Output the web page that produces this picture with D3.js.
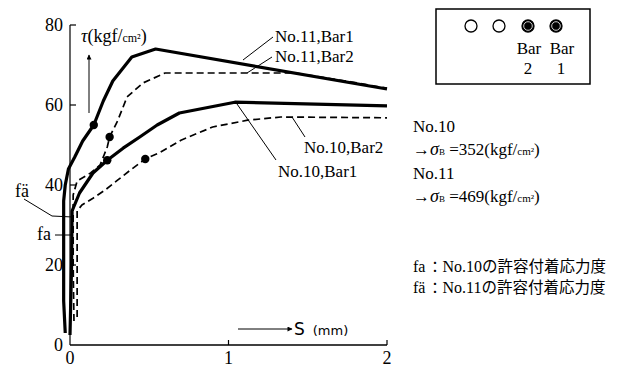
<!DOCTYPE html>
<html>
<head>
<meta charset="utf-8">
<script src="https://cdn.jsdelivr.net/npm/d3@7"></script>
<style>
  body { margin: 0; background: #fff; }
</style>
</head>
<body>
<svg id="chart" width="629" height="369"></svg>
<script>
// slip S (mm) and bond stress tau (kgf/cm2)
const no11Bar1 = [[-0.03, 3], [-0.04, 11], [-0.04, 24], [-0.04, 36], [-0.03, 40], [-0.01, 44], [0.03, 47],
  [0.08, 51], [0.15, 55], [0.21, 61], [0.27, 66], [0.39, 72], [0.54, 74], [2.0, 64]];
const no11Bar2 = [[0.025, 6], [0.02, 20], [0.02, 37.5], [0.045, 41], [0.13, 43], [0.19, 45], [0.215, 47.5],
  [0.235, 49.5], [0.25, 52], [0.3, 56], [0.36, 62], [0.46, 65.5], [0.6, 68], [1.42, 68], [1.77, 65.8], [2.0, 64.2]];
const no10Bar1 = [[0.0, 2.5], [0.01, 20], [0.013, 33.5], [0.06, 38], [0.145, 43], [0.235, 46.2], [0.335, 49.2],
  [0.44, 52], [0.55, 55], [0.69, 58], [1.04, 60.7], [2.0, 59.8]];
const no10Bar2 = [[0.045, 7], [0.045, 20], [0.045, 33.5], [0.075, 35], [0.145, 36.7], [0.22, 38.7], [0.3, 41.2],
  [0.38, 43.7], [0.475, 46.5], [0.57, 48.2], [0.7, 51.2], [0.9, 54.5], [1.12, 56.2], [1.33, 57], [2.0, 56.8]];
const dots = [[0.15, 55], [0.25, 52], [0.235, 46.2], [0.475, 46.5]];

const yTicks = [0, 20, 40, 60, 80];
const xTicks = [0, 1, 2];
const faValue = 27.5;      // No.10
const faPrimeValue = 32;   // No.11

const SERIF = "'Liberation Serif', 'DejaVu Serif', 'Times New Roman', serif";
const JP = "'Noto Sans CJK JP', sans-serif";

const svg = d3.select("#chart").attr("font-family", SERIF);
const x = d3.scaleLinear().domain([0, 2]).range([70, 387]);
const y = d3.scaleLinear().domain([0, 80]).range([345, 25]);

function txt(xp, yp, size) {
  return svg.append("text").attr("x", xp).attr("y", yp)
    .attr("font-family", SERIF).attr("font-size", size).attr("fill", "#000");
}

// axes
svg.append("line").attr("x1", x(0)).attr("x2", x(0)).attr("y1", y(80)).attr("y2", y(0))
  .attr("stroke", "#000").attr("stroke-width", 1.2);
svg.append("line").attr("x1", x(0)).attr("x2", x(2)).attr("y1", y(0)).attr("y2", y(0))
  .attr("stroke", "#000").attr("stroke-width", 1.5);

yTicks.forEach(t => {
  if (t > 0) {
    svg.append("line").attr("x1", x(0)).attr("x2", x(0) + 6).attr("y1", y(t)).attr("y2", y(t))
      .attr("stroke", "#000").attr("stroke-width", 1.2);
  }
  txt(x(0) - 7, y(t) + 6, 18).attr("text-anchor", "end").text(t);
});
xTicks.forEach(t => {
  if (t > 0) {
    svg.append("line").attr("x1", x(t)).attr("x2", x(t)).attr("y1", y(0)).attr("y2", y(0) - 5)
      .attr("stroke", "#000").attr("stroke-width", 1.2);
  }
  txt(x(t), y(0) + 19, 18).attr("text-anchor", "middle").text(t);
});

// curves
const line = d3.line().x(d => x(d[0])).y(d => y(d[1])).curve(d3.curveLinear);
const series = [
  { data: no11Bar1, w: 3.2, dash: null },
  { data: no10Bar1, w: 3.2, dash: null },
  { data: no11Bar2, w: 1.7, dash: "7,4" },
  { data: no10Bar2, w: 1.7, dash: "7,4" }
];
series.forEach(s => {
  svg.append("path").datum(s.data).attr("d", line)
    .attr("fill", "none").attr("stroke", "#000")
    .attr("stroke-width", s.w).attr("stroke-dasharray", s.dash)
    .attr("stroke-linejoin", "round");
});
svg.selectAll(".dot").data(dots).enter().append("circle")
  .attr("cx", d => x(d[0])).attr("cy", d => y(d[1])).attr("r", 4.2).attr("fill", "#000");

// axis titles with arrows
svg.append("defs").append("marker").attr("id", "arr").attr("viewBox", "0 0 10 10")
  .attr("refX", 9).attr("refY", 5).attr("markerWidth", 7).attr("markerHeight", 5)
  .attr("orient", "auto").append("path").attr("d", "M0,0L10,5L0,10z").attr("fill", "#000");

svg.append("line").attr("x1", 89).attr("x2", 89).attr("y1", 113).attr("y2", 55)
  .attr("stroke", "#000").attr("stroke-width", 1).attr("marker-end", "url(#arr)");
const tau = txt(81, 42, 18);
tau.append("tspan").attr("font-style", "italic").text("τ");
tau.append("tspan").text("(kgf/");
tau.append("tspan").attr("font-size", 12).text("cm²");
tau.append("tspan").text(")");

svg.append("line").attr("x1", 238).attr("x2", 292).attr("y1", 329).attr("y2", 329)
  .attr("stroke", "#000").attr("stroke-width", 1).attr("marker-end", "url(#arr)");
const sLab = txt(294, 335, 17).attr("font-family", "'DejaVu Sans', sans-serif");
sLab.append("tspan").text("S");
sLab.append("tspan").attr("dx", 8).attr("font-size", 13).text("(mm)");

// curve labels with leaders
const leaders = [
  { text: "No.11,Bar1", tx: 275, ty: 42, from: [273, 37], to: [243, 60] },
  { text: "No.11,Bar2", tx: 275, ty: 62, from: [272, 57], to: [247, 73] },
  { text: "No.10,Bar2", tx: 304, ty: 153, from: [305, 137], to: [292, 117] },
  { text: "No.10,Bar1", tx: 278, ty: 177, from: [276, 160], to: [237, 104] }
];
leaders.forEach(l => {
  svg.append("line").attr("x1", l.from[0]).attr("y1", l.from[1]).attr("x2", l.to[0]).attr("y2", l.to[1])
    .attr("stroke", "#000").attr("stroke-width", 1);
  txt(l.tx, l.ty, 17).text(l.text);
});

// fa / f'a markers
svg.append("polyline").attr("points", [[24, 199], [52, 216], [x(0) + 3, y(faPrimeValue)]].join(" "))
  .attr("fill", "none").attr("stroke", "#000").attr("stroke-width", 1);
txt(15, 197, 18).text("fä");
svg.append("line").attr("x1", 55).attr("x2", x(0) + 3).attr("y1", y(faValue)).attr("y2", y(faValue))
  .attr("stroke", "#000").attr("stroke-width", 1);
txt(37, y(faValue) + 5, 18).text("fa");

// section legend box
svg.append("rect").attr("x", 436).attr("y", 9).attr("width", 154).attr("height", 75)
  .attr("fill", "none").attr("stroke", "#000").attr("stroke-width", 1.5);
const barMarks = [{ cx: 471, filled: false }, { cx: 499, filled: false }, { cx: 528, filled: true }, { cx: 556, filled: true }];
barMarks.forEach(b => {
  svg.append("circle").attr("cx", b.cx).attr("cy", 26).attr("r", 6)
    .attr("fill", b.filled ? "#000" : "#fff").attr("stroke", "#000").attr("stroke-width", 1.3);
  if (b.filled) {
    svg.append("circle").attr("cx", b.cx).attr("cy", 26).attr("r", 4.3)
      .attr("fill", "#000").attr("stroke", "#fff").attr("stroke-width", 0.8);
  }
});
[["Bar", "2", 529], ["Bar", "1", 562]].forEach(d => {
  txt(d[2], 54, 17).attr("text-anchor", "middle").text(d[0]);
  txt(d[2] - 1, 74, 17).attr("text-anchor", "middle").text(d[1]);
});

// concrete strength notes
const notes = [
  { y: 132, parts: [["No.10", null]] },
  { y: 155, parts: [["→", null], ["σ", "i"], ["B", "s"], [" =352(kgf/", null], ["cm²", "c"], [")", null]] },
  { y: 179, parts: [["No.11", null]] },
  { y: 202, parts: [["→", null], ["σ", "i"], ["B", "s"], [" =469(kgf/", null], ["cm²", "c"], [")", null]] }
];
notes.forEach(n => {
  const t = txt(413, n.y, 17);
  n.parts.forEach(p => {
    const sp = t.append("tspan").text(p[0]);
    if (p[1] === "i") sp.attr("font-style", "italic").attr("font-size", 18);
    if (p[1] === "s") sp.attr("font-size", 9);
    if (p[1] === "c") sp.attr("font-size", 11);
  });
});

// allowable bond stress notes
const faNotes = [["fa", "No.10", 272], ["fä", "No.11", 293]];
faNotes.forEach(f => {
  const t = txt(413, f[2], 16);
  t.append("tspan").text(f[0]);
  t.append("tspan").attr("font-family", JP).attr("font-size", 15).attr("dx", 2).text("：");
  t.append("tspan").text(f[1]);
  t.append("tspan").attr("font-family", JP).attr("font-size", 15.5).text("の許容付着応力度");
});
</script>
</body>
</html>
